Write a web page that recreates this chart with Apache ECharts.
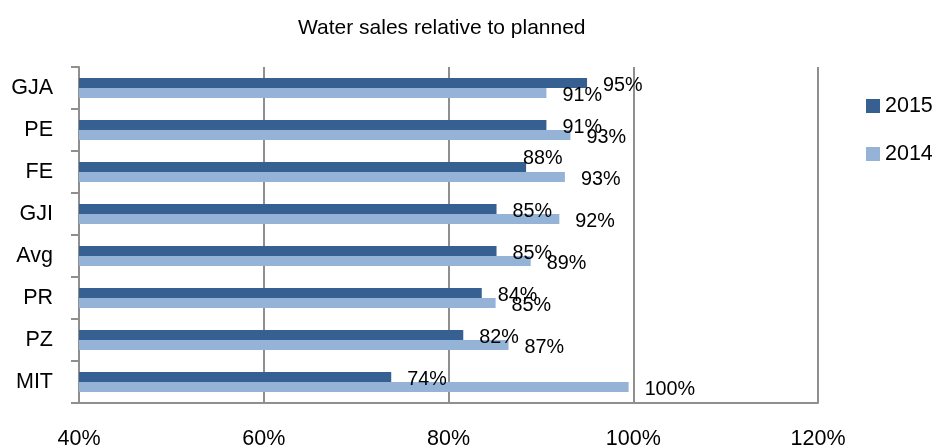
<!DOCTYPE html>
<html>
<head>
<meta charset="utf-8">
<script src="https://cdn.jsdelivr.net/npm/echarts@6/dist/echarts.min.js"></script>
<style>
  html, body { margin: 0; padding: 0; background: #fff; }
  #chart { width: 932px; height: 446px; }
</style>
</head>
<body>
<div id="chart"></div>
<script>
// Water sales as a percentage of the planned volume, per unit
const categories = ['GJA', 'PE', 'FE', 'GJI', 'Avg', 'PR', 'PZ', 'MIT'];
const sales2015 = [95.0, 90.6, 88.4, 85.2, 85.2, 83.6, 81.6, 73.8];
const sales2014 = [90.6, 93.2, 92.6, 92.0, 88.9, 85.1, 86.5, 99.5];
const xTicks = [40, 60, 80, 100, 120];

// Pick a condensed sans face if one is installed
function fontAvailable(name) {
  const ctx = document.createElement('canvas').getContext('2d');
  const probe = 'mmmWWiil40%';
  ctx.font = '40px monospace';
  const base = ctx.measureText(probe).width;
  ctx.font = "40px '" + name + "', monospace";
  return ctx.measureText(probe).width !== base;
}
let narrowFont = 'Liberation Sans';
let narrowScale = 0.86;
for (const f of ['Liberation Sans Narrow', 'Arial Narrow']) {
  if (fontAvailable(f)) { narrowFont = f; narrowScale = 1; break; }
}
const fs = s => s * narrowScale;

const gridColor = '#8f8f8f';

// FE 2015 label sits above its bar
const moved = { 2: { offset: [-19, -8] } };

function seriesData(values, overrides) {
  return values.map((v, i) => {
    const item = { value: v };
    if (overrides && overrides[i]) item.label = overrides[i];
    return item;
  });
}

const chart = echarts.init(document.getElementById('chart'), null, { renderer: 'canvas' });

const labelStyle = {
  show: true,
  position: 'right',
  distance: 16,
  offset: [0, 3],
  color: '#000',
  fontFamily: narrowFont,
  fontSize: fs(23),
  formatter: p => Math.round(p.value) + '%'
};

chart.setOption({
  animation: false,
  backgroundColor: '#fff',
  title: {
    text: 'Water sales relative to planned',
    left: 293,
    top: 13,
    textStyle: {
      fontFamily: 'Liberation Sans',
      fontWeight: 'normal',
      fontSize: 21,
      color: '#000'
    }
  },
  legend: {
    orient: 'vertical',
    left: 861,
    top: 90,
    itemWidth: 14,
    itemHeight: 14,
    itemGap: 26,
    icon: 'rect',
    textStyle: { fontFamily: narrowFont, fontSize: fs(25), color: '#000' },
    data: ['2015', '2014']
  },
  grid: {
    left: 79, right: 114, top: 67, bottom: 43,
    containLabel: false,
    outerBoundsMode: 'none'
  },
  xAxis: {
    type: 'value',
    min: xTicks[0],
    max: xTicks[xTicks.length - 1],
    interval: xTicks[1] - xTicks[0],
    axisLine: { show: true, lineStyle: { color: gridColor, width: 2 } },
    axisTick: { show: false },
    splitLine: { show: true, lineStyle: { color: gridColor, width: 2 } },
    axisLabel: {
      margin: 25,
      color: '#000',
      fontFamily: narrowFont,
      fontSize: fs(25),
      formatter: v => v + '%'
    }
  },
  yAxis: {
    type: 'category',
    inverse: true,
    data: categories,
    axisLine: { show: true, lineStyle: { color: gridColor, width: 2 } },
    axisTick: { show: true, length: 8, interval: 0, lineStyle: { color: gridColor, width: 2 } },
    axisLabel: {
      margin: 26,
      color: '#000',
      fontFamily: narrowFont,
      fontSize: fs(25)
    },
    splitLine: { show: false }
  },
  series: [
    {
      name: '2015',
      type: 'bar',
      barWidth: 10,
      barGap: '0%',
      itemStyle: { color: '#376092' },
      label: labelStyle,
      data: seriesData(sales2015, moved)
    },
    {
      name: '2014',
      type: 'bar',
      barWidth: 10,
      barGap: '0%',
      itemStyle: { color: '#95b3d7' },
      label: labelStyle,
      data: seriesData(sales2014)
    }
  ]
});
</script>
</body>
</html>
